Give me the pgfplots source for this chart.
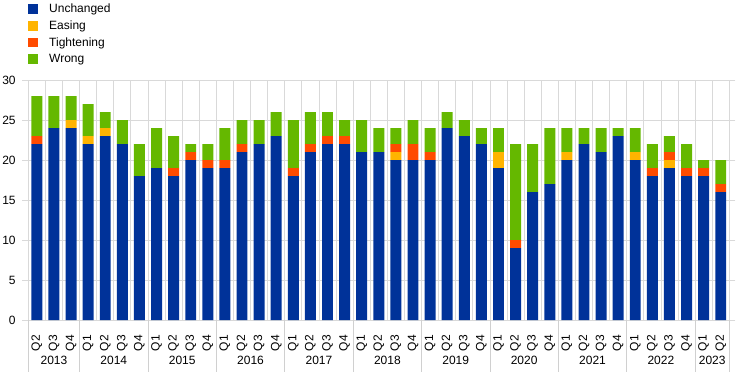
\documentclass[border=0pt]{standalone}
\usepackage{pgfplots}
\pgfplotsset{compat=1.18}
\usepackage{pgfplotstable}
\usepackage{graphicx}
\usepackage{fontspec}
\setmainfont{Liberation Sans}
\definecolor{cU}{HTML}{003299}
\definecolor{cE}{HTML}{FFB400}
\definecolor{cT}{HTML}{FF4B00}
\definecolor{cW}{HTML}{65B800}
\definecolor{gridgray}{HTML}{D9D9D9}
\definecolor{sepgray}{HTML}{D0D0D0}
\pgfplotstableread{
x U E T W
0 22 0 1 5
1 24 0 0 4
2 24 1 0 3
3 22 1 0 4
4 23 1 0 2
5 22 0 0 3
6 18 0 0 4
7 19 0 0 5
8 18 0 1 4
9 20 0 1 1
10 19 0 1 2
11 19 0 1 4
12 21 0 1 3
13 22 0 0 3
14 23 0 0 3
15 18 0 1 6
16 21 0 1 4
17 22 0 1 3
18 22 0 1 2
19 21 0 0 4
20 21 0 0 3
21 20 1 1 2
22 20 0 2 3
23 20 0 1 3
24 24 0 0 2
25 23 0 0 2
26 22 0 0 2
27 19 2 0 3
28 9 0 1 12
29 16 0 0 6
30 17 0 0 7
31 20 1 0 3
32 22 0 0 2
33 21 0 0 3
34 23 0 0 1
35 20 1 0 3
36 18 0 1 3
37 19 1 1 2
38 18 0 1 3
39 18 0 1 1
40 16 0 1 3
}\datatable
\newcommand{\rotq}[1]{\rotatebox{90}{#1}}
\begin{document}
\begin{tikzpicture}[font=\fontsize{12pt}{14pt}\selectfont]
\useasboundingbox (0,0) rectangle (744pt,372pt);
\begin{axis}[
  at={(28.3pt,52pt)}, anchor=south west,
  scale only axis, width=701pt, height=240pt,
  ybar stacked, bar width=0.64,
  xmin=-0.5, xmax=40.5, ymin=0, ymax=30,
  ytick={0,5,...,30},
  xtick={0,...,40},
  xticklabels={\rotq{Q2},\rotq{Q3},\rotq{Q4},
    \rotq{Q1},\rotq{Q2},\rotq{Q3},\rotq{Q4},
    \rotq{Q1},\rotq{Q2},\rotq{Q3},\rotq{Q4},
    \rotq{Q1},\rotq{Q2},\rotq{Q3},\rotq{Q4},
    \rotq{Q1},\rotq{Q2},\rotq{Q3},\rotq{Q4},
    \rotq{Q1},\rotq{Q2},\rotq{Q3},\rotq{Q4},
    \rotq{Q1},\rotq{Q2},\rotq{Q3},\rotq{Q4},
    \rotq{Q1},\rotq{Q2},\rotq{Q3},\rotq{Q4},
    \rotq{Q1},\rotq{Q2},\rotq{Q3},\rotq{Q4},
    \rotq{Q1},\rotq{Q2},\rotq{Q3},\rotq{Q4},
    \rotq{Q1},\rotq{Q2}},
  xticklabel style={anchor=north, inner sep=0pt, yshift=-9pt},
  minor xtick={-0.5,0.5,...,40.5},
  xminorgrids=true, ymajorgrids=true, xmajorgrids=false,
  major grid style={draw=gridgray, line width=0.8pt},
  minor grid style={draw=gridgray, line width=0.8pt},
  axis line style={draw=none},
  major x tick style={draw=none},
  minor x tick style={draw=none},
  major y tick style={draw=gridgray, line width=0.8pt},
  tick align=outside, major tick length=6pt,
  yticklabel style={anchor=east, inner sep=0pt, xshift=-6.5pt},
  /pgf/number format/assume math mode=true,
  tick label style={font=\fontsize{12pt}{14pt}\selectfont},
  clip=false,
  legend style={at={(rel axis cs:0,1)}, anchor=north west, yshift=77pt, xshift=-0.3pt,
    draw=none, fill=none, inner sep=0pt, row sep=4.5pt,
    font=\fontsize{12pt}{14pt}\selectfont,
    nodes={inner sep=1pt}},
  legend cell align=left,
  legend image code/.code={\fill[#1] (0pt,-4.8pt) rectangle (10pt,4.8pt);},
]
\addplot[fill=cU, draw=none] table[x=x, y=U] {\datatable};
\addlegendentry{\hspace{10pt}Unchanged}
\addplot[fill=cE, draw=none] table[x=x, y=E] {\datatable};
\addlegendentry{\hspace{10pt}Easing}
\addplot[fill=cT, draw=none] table[x=x, y=T] {\datatable};
\addlegendentry{\hspace{10pt}Tightening}
\addplot[fill=cW, draw=none] table[x=x, y=W] {\datatable};
\addlegendentry{\hspace{10pt}Wrong}
\draw[sepgray, line width=0.8pt] (axis cs:-0.5,0) -- ++(0pt,-52pt);
\draw[sepgray, line width=0.8pt] (axis cs:2.5,0) -- ++(0pt,-52pt);
\draw[sepgray, line width=0.8pt] (axis cs:6.5,0) -- ++(0pt,-52pt);
\draw[sepgray, line width=0.8pt] (axis cs:10.5,0) -- ++(0pt,-52pt);
\draw[sepgray, line width=0.8pt] (axis cs:14.5,0) -- ++(0pt,-52pt);
\draw[sepgray, line width=0.8pt] (axis cs:18.5,0) -- ++(0pt,-52pt);
\draw[sepgray, line width=0.8pt] (axis cs:22.5,0) -- ++(0pt,-52pt);
\draw[sepgray, line width=0.8pt] (axis cs:26.5,0) -- ++(0pt,-52pt);
\draw[sepgray, line width=0.8pt] (axis cs:30.5,0) -- ++(0pt,-52pt);
\draw[sepgray, line width=0.8pt] (axis cs:34.5,0) -- ++(0pt,-52pt);
\draw[sepgray, line width=0.8pt] (axis cs:38.5,0) -- ++(0pt,-52pt);
\draw[sepgray, line width=0.8pt] (axis cs:40.5,0) -- ++(0pt,-52pt);
\node[yshift=-40.5pt] at (axis cs:1,0) {2013};
\node[yshift=-40.5pt] at (axis cs:4.5,0) {2014};
\node[yshift=-40.5pt] at (axis cs:8.5,0) {2015};
\node[yshift=-40.5pt] at (axis cs:12.5,0) {2016};
\node[yshift=-40.5pt] at (axis cs:16.5,0) {2017};
\node[yshift=-40.5pt] at (axis cs:20.5,0) {2018};
\node[yshift=-40.5pt] at (axis cs:24.5,0) {2019};
\node[yshift=-40.5pt] at (axis cs:28.5,0) {2020};
\node[yshift=-40.5pt] at (axis cs:32.5,0) {2021};
\node[yshift=-40.5pt] at (axis cs:36.5,0) {2022};
\node[yshift=-40.5pt] at (axis cs:39.5,0) {2023};
\end{axis}
\end{tikzpicture}
\end{document}
